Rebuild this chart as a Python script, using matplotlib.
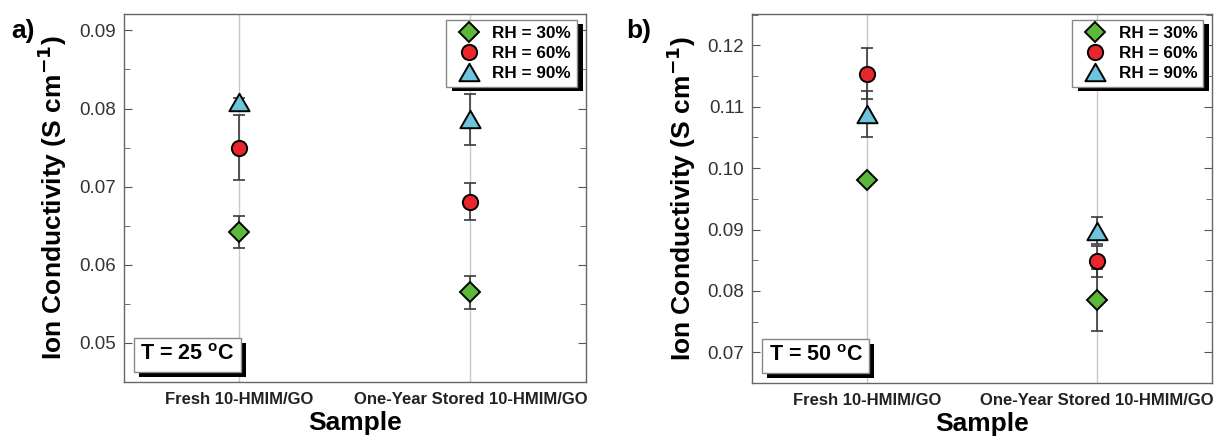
import matplotlib
matplotlib.use("Agg")
import matplotlib.pyplot as plt
import matplotlib.patheffects as pe
from matplotlib.path import Path
import numpy as np

plt.rcParams["font.family"] = ["Liberation Sans", "DejaVu Sans"]

# Samples on the x axis
categories = ["Fresh 10-HMIM/GO", "One-Year Stored 10-HMIM/GO"]
rh_labels = ["RH = 30%", "RH = 60%", "RH = 90%"]

# Ion conductivity (S cm^-1) at 25 °C, with error bars
t25_rh30 = [0.0642, 0.0565]
t25_rh30_err = [0.0021, 0.0021]
t25_rh60 = [0.0750, 0.0681]
t25_rh60_err = [0.0042, 0.0024]
t25_rh90 = [0.0808, 0.0786]
t25_rh90_err = [0.0005, 0.0033]

# Ion conductivity (S cm^-1) at 50 °C, with error bars
t50_rh30 = [0.0981, 0.0785]
t50_rh30_err = [0.0005, 0.0051]
t50_rh60 = [0.1154, 0.0848]
t50_rh60_err = [0.0042, 0.0025]
t50_rh90 = [0.1088, 0.0898]
t50_rh90_err = [0.0037, 0.0022]

# equilateral triangle marker, centred on its bounding box
tri = Path([(0, 0.433), (-0.5, -0.433), (0.5, -0.433), (0, 0.433)],
           [Path.MOVETO, Path.LINETO, Path.LINETO, Path.CLOSEPOLY])

marker_styles = [
    dict(marker="D", ms=10.5, mfc="#5cb83a"),
    dict(marker="o", ms=11, mfc="#e8262b"),
    dict(marker=tri, ms=14.5, mfc="#6cc5dc"),
]

fig = plt.figure(figsize=(12.18, 4.43), dpi=100)
ax_a = fig.add_axes([0.1018, 0.1377, 0.3793, 0.8307])
ax_b = fig.add_axes([0.6178, 0.1354, 0.3773, 0.8330])


def shadowed(patch, off=(3.5, -3.5)):
    patch.set_path_effects([
        pe.SimplePatchShadow(offset=off, shadow_rgbFace="black", alpha=1),
        pe.Normal()])


def draw_panel(ax, series, errors, ylim, major, temp_text, panel_label,
               label_x):
    x = np.arange(1, len(categories) + 1)
    for xi in x:
        ax.axvline(xi, color="#c8c8c8", lw=1.0, zorder=0)
    for vals, errs in zip(series, errors):
        ax.errorbar(x, vals, yerr=errs, fmt="none", ecolor="#3a3a3a",
                    elinewidth=1.2, capsize=4, capthick=1.2, zorder=2)
    handles = []
    for vals, style, lab in zip(series, marker_styles, rh_labels):
        h, = ax.plot(x, vals, ls="none", mec="black", mew=1.4,
                     label=lab, zorder=3, **style)
        handles.append(h)

    ax.set_xlim(0.5, len(categories) + 0.5)
    ax.set_ylim(*ylim)
    ax.set_xticks(x)
    ax.set_xticklabels(categories, fontsize=12, fontweight="bold",
                       color="#222222")
    ax.set_yticks(major)
    ax.set_yticks(np.arange(major[0] - 0.005, ylim[1], 0.005), minor=True)
    ax.yaxis.set_major_formatter(matplotlib.ticker.FormatStrFormatter("%.2f"))
    ax.tick_params(axis="y", which="both", direction="in", right=True,
                   labelsize=13.5, labelcolor="#333333", color="#555555",
                   pad=6)
    ax.tick_params(axis="y", which="major", length=6)
    ax.tick_params(axis="y", which="minor", length=4)
    ax.tick_params(axis="x", length=0, pad=7)
    for sp in ax.spines.values():
        sp.set_color("#666666")
        sp.set_linewidth(1.0)

    ax.set_ylabel("Ion Conductivity (S cm$^{\\mathbf{-1}}$)", fontsize=19,
                  fontweight="bold", labelpad=7)
    ax.set_xlabel("Sample", fontsize=19, fontweight="bold", labelpad=3)

    leg = ax.legend(handles=handles, loc="upper right",
                    bbox_to_anchor=(0.981, 0.984), borderaxespad=0,
                    fancybox=False, edgecolor="#888888", framealpha=1,
                    handletextpad=0.45, borderpad=0.35, labelspacing=0.3,
                    handlelength=1.9,
                    prop=dict(weight="bold", size=12.3))
    leg.get_frame().set_linewidth(1.0)
    shadowed(leg.get_frame(), off=(4, -3))

    t = ax.text(0.035, 0.045, temp_text, transform=ax.transAxes,
                fontsize=15.5, fontweight="bold", ha="left", va="bottom",
                zorder=4,
                bbox=dict(boxstyle="square,pad=0.3", fc="white",
                          ec="#888888", lw=1.0))
    shadowed(t.get_bbox_patch())

    fig.text(label_x, 0.915, panel_label, fontsize=19, fontweight="bold")


draw_panel(ax_a, [t25_rh30, t25_rh60, t25_rh90],
           [t25_rh30_err, t25_rh60_err, t25_rh90_err],
           (0.05, 0.0921), [0.05, 0.06, 0.07, 0.08, 0.09],
           "T = 25 $^{\\mathregular{o}}$C", "a)", 0.009)
draw_panel(ax_b, [t50_rh30, t50_rh60, t50_rh90],
           [t50_rh30_err, t50_rh60_err, t50_rh90_err],
           (0.068, 0.1251), [0.07, 0.08, 0.09, 0.10, 0.11, 0.12],
           "T = 50 $^{\\mathregular{o}}$C", "b)", 0.514)

fig.savefig("out.png", dpi=100)
